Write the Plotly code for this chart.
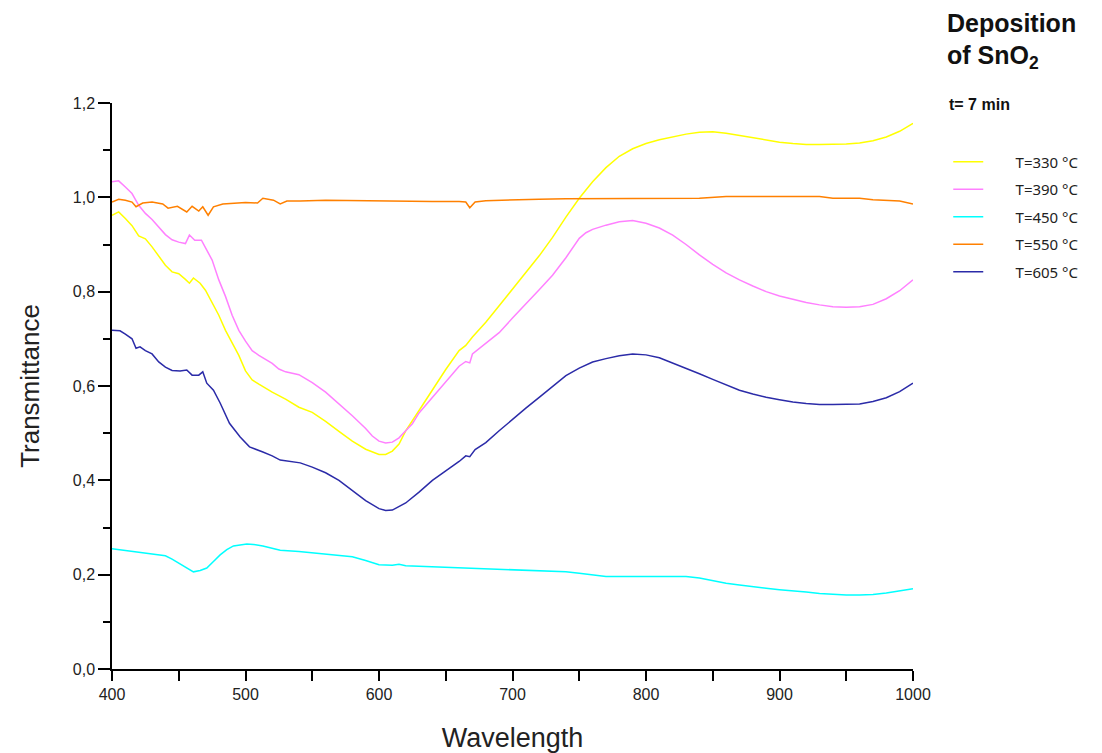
import plotly.graph_objects as go

# Transmittance spectra of SnO2 films, deposition time 7 min
wl_330 = [400, 405, 410, 415, 420, 425, 430, 435, 440, 445, 450, 455, 458, 461, 466, 470, 475, 480, 485,
          490, 495, 500, 505, 510, 520, 530, 540, 550, 560, 570, 580, 590, 600, 605, 610, 615, 620, 630,
          640, 650, 660, 665, 670, 680, 690, 700, 710, 720, 730, 740, 750, 760, 770, 780, 790, 800, 810,
          820, 830, 840, 850, 860, 870, 880, 890, 900, 910, 920, 930, 940, 950, 960, 970, 980, 990, 1000]
t_330 = [0.962, 0.969, 0.955, 0.940, 0.918, 0.912, 0.895, 0.875, 0.856, 0.842, 0.838, 0.826, 0.818, 0.829,
         0.818, 0.803, 0.775, 0.750, 0.718, 0.690, 0.665, 0.632, 0.613, 0.604, 0.587, 0.572, 0.555, 0.544,
         0.525, 0.504, 0.483, 0.466, 0.455, 0.455, 0.462, 0.477, 0.505, 0.548, 0.592, 0.635, 0.675, 0.686,
         0.704, 0.735, 0.770, 0.806, 0.842, 0.876, 0.915, 0.958, 0.998, 1.033, 1.063, 1.087, 1.103, 1.114,
         1.122, 1.128, 1.134, 1.138, 1.139, 1.136, 1.131, 1.126, 1.121, 1.117, 1.114, 1.112, 1.112, 1.112,
         1.113, 1.115, 1.120, 1.128, 1.140, 1.157]

wl_390 = [400, 405, 410, 415, 420, 425, 430, 435, 440, 445, 450, 455, 458, 462, 467, 471, 475, 480, 485,
          490, 495, 500, 505, 510, 515, 520, 525, 530, 540, 550, 560, 570, 580, 590, 595, 600, 605, 610,
          615, 620, 625, 630, 640, 650, 660, 665, 668, 670, 680, 690, 700, 710, 720, 730, 740, 750, 755,
          760, 770, 780, 790, 800, 810, 820, 830, 840, 850, 860, 870, 880, 890, 900, 910, 920, 930, 940,
          950, 960, 970, 980, 990, 1000]
t_390 = [1.033, 1.035, 1.022, 1.008, 0.983, 0.966, 0.953, 0.937, 0.921, 0.910, 0.905, 0.902, 0.920, 0.909,
         0.909, 0.888, 0.867, 0.825, 0.790, 0.750, 0.718, 0.695, 0.675, 0.665, 0.657, 0.648, 0.636, 0.630,
         0.624, 0.607, 0.587, 0.563, 0.537, 0.510, 0.494, 0.483, 0.479, 0.481, 0.490, 0.505, 0.520, 0.543,
         0.576, 0.607, 0.642, 0.652, 0.649, 0.668, 0.690, 0.713, 0.744, 0.773, 0.804, 0.835, 0.872, 0.913,
         0.925, 0.932, 0.941, 0.948, 0.951, 0.945, 0.935, 0.920, 0.900, 0.878, 0.858, 0.840, 0.825, 0.812,
         0.800, 0.791, 0.784, 0.777, 0.772, 0.768, 0.767, 0.768, 0.773, 0.785, 0.802, 0.825]

wl_450 = [400, 410, 420, 430, 440, 445, 450, 455, 461, 466, 471, 476, 481, 486, 491, 501, 506, 513, 520,
          526, 540, 551, 560, 570, 580, 590, 600, 610, 615, 620, 640, 660, 680, 700, 720, 740, 750, 760,
          770, 800, 830, 840, 850, 860, 870, 880, 890, 900, 910, 920, 930, 940, 950, 960, 970, 980, 990, 1000]
t_450 = [0.255, 0.251, 0.247, 0.243, 0.240, 0.233, 0.224, 0.215, 0.206, 0.209, 0.214, 0.228, 0.242, 0.253,
         0.261, 0.265, 0.264, 0.261, 0.256, 0.252, 0.249, 0.246, 0.245, 0.242, 0.238, 0.230, 0.221, 0.220,
         0.222, 0.219, 0.217, 0.214, 0.212, 0.211, 0.209, 0.206, 0.203, 0.199, 0.196, 0.196, 0.196, 0.193,
         0.187, 0.182, 0.178, 0.174, 0.171, 0.168, 0.166, 0.163, 0.160, 0.158, 0.157, 0.157, 0.158, 0.161,
         0.165, 0.170]

wl_550 = [400, 405, 410, 415, 418, 423, 430, 438, 442, 449, 456, 460, 465, 468, 472, 476, 483, 491, 500,
          509, 513, 521, 526, 531, 541, 560, 580, 600, 620, 640, 660, 665, 668, 672, 680, 700, 720, 740,
          760, 780, 800, 820, 840, 860, 880, 900, 920, 930, 940, 960, 970, 980, 990, 1000]
t_550 = [0.990, 0.996, 0.994, 0.990, 0.980, 0.988, 0.990, 0.986, 0.977, 0.981, 0.969, 0.981, 0.971, 0.980,
         0.962, 0.980, 0.986, 0.988, 0.989, 0.988, 0.998, 0.994, 0.986, 0.992, 0.992, 0.994, 0.993, 0.993,
         0.992, 0.991, 0.991, 0.990, 0.978, 0.990, 0.993, 0.995, 0.996, 0.997, 0.997, 0.997, 0.997, 0.997,
         0.998, 1.002, 1.002, 1.002, 1.002, 1.002, 0.998, 0.998, 0.995, 0.994, 0.992, 0.986]

wl_605 = [400, 406, 410, 415, 418, 421, 425, 430, 435, 440, 445, 451, 456, 460, 465, 468, 471, 476, 481,
          488, 496, 503, 513, 520, 526, 536, 541, 550, 560, 570, 580, 590, 600, 605, 610, 620, 630, 640,
          650, 660, 665, 668, 672, 680, 690, 700, 710, 720, 730, 740, 750, 760, 770, 780, 790, 800, 810,
          820, 830, 840, 850, 860, 870, 880, 890, 900, 910, 920, 930, 940, 950, 960, 970, 980, 990, 1000]
t_605 = [0.718, 0.717, 0.710, 0.700, 0.680, 0.683, 0.675, 0.668, 0.651, 0.640, 0.633, 0.632, 0.634, 0.623,
         0.623, 0.630, 0.606, 0.591, 0.564, 0.521, 0.492, 0.471, 0.460, 0.452, 0.443, 0.439, 0.437, 0.428,
         0.416, 0.400, 0.378, 0.357, 0.340, 0.336, 0.337, 0.352, 0.375, 0.400, 0.420, 0.440, 0.452, 0.450,
         0.465, 0.480, 0.505, 0.530, 0.553, 0.576, 0.600, 0.622, 0.638, 0.651, 0.658, 0.664, 0.668, 0.666,
         0.660, 0.649, 0.638, 0.626, 0.614, 0.602, 0.591, 0.583, 0.576, 0.571, 0.566, 0.563, 0.561, 0.561,
         0.561, 0.562, 0.567, 0.575, 0.588, 0.606]

series = [
    ("T=330 °C", wl_330, t_330, "#FFFF00"),
    ("T=390 °C", wl_390, t_390, "#FF80FF"),
    ("T=450 °C", wl_450, t_450, "#00FFFF"),
    ("T=550 °C", wl_550, t_550, "#FF8000"),
    ("T=605 °C", wl_605, t_605, "#2B2BA8"),
]

x_ticks = [400, 500, 600, 700, 800, 900, 1000]
y_ticks = [0.0, 0.2, 0.4, 0.6, 0.8, 1.0, 1.2]

fig = go.Figure()
for i, (name, x, y, color) in enumerate(series):
    fig.add_trace(go.Scatter(
        x=x, y=y, mode="lines", name="       " + name, legendgroup=f"g{i}",
        line=dict(color=color, width=1.5),
    ))

sans = "Liberation Sans, Arial, sans-serif"
axis_font = dict(family=sans, size=16, color="#222222")

fig.update_layout(
    width=1102, height=753,
    margin=dict(l=112, r=189, t=103, b=84),
    paper_bgcolor="white", plot_bgcolor="white",
    separators=",.",
    showlegend=True,
    legend=dict(
        x=1.044, y=0.925, xanchor="left", yanchor="top",
        font=dict(family="Noto Sans, DejaVu Sans, sans-serif", size=15, color="#222222"),
        tracegroupgap=5, bgcolor="rgba(0,0,0,0)",
    ),
    xaxis=dict(
        range=[400, 1000], tickvals=x_ticks, showgrid=False, zeroline=False,
        showline=True, linecolor="black", linewidth=1.5, mirror=False, automargin=False,
        ticks="outside", ticklen=10, tickwidth=1.5, tickcolor="black",
        minor=dict(dtick=50, ticks="outside", ticklen=10, tickwidth=1.5, tickcolor="black"),
        tickfont=axis_font,
        title=dict(text="Wavelength", font=dict(family=sans, size=27, color="#222222"), standoff=28),
    ),
    yaxis=dict(
        range=[0, 1.2], tickvals=y_ticks, tickformat=".1f", showgrid=False, zeroline=False,
        showline=True, linecolor="black", linewidth=1.5, mirror=False, automargin=False,
        ticks="outside", ticklen=12, tickwidth=1.5, tickcolor="black",
        minor=dict(dtick=0.1, ticks="outside", ticklen=7, tickwidth=1.5, tickcolor="black"),
        tickfont=axis_font,
        title=dict(text="Transmittance", font=dict(family=sans, size=26, color="#222222"), standoff=26),
    ),
)

title_font = dict(family=sans, size=25, color="#111111")
fig.add_annotation(xref="paper", yref="paper", x=1.04, y=1.142, xanchor="left", yanchor="middle",
                   text="<b>Deposition</b>", showarrow=False, font=title_font)
fig.add_annotation(xref="paper", yref="paper", x=1.04, y=1.082, xanchor="left", yanchor="middle",
                   text="<b>of SnO<sub>2</sub></b>", showarrow=False, font=title_font)
fig.add_annotation(xref="paper", yref="paper", x=1.043, y=0.998, xanchor="left", yanchor="middle",
                   text="<b>t= 7 min</b>", showarrow=False,
                   font=dict(family=sans, size=16, color="#111111"))

fig.write_html("out.html")
